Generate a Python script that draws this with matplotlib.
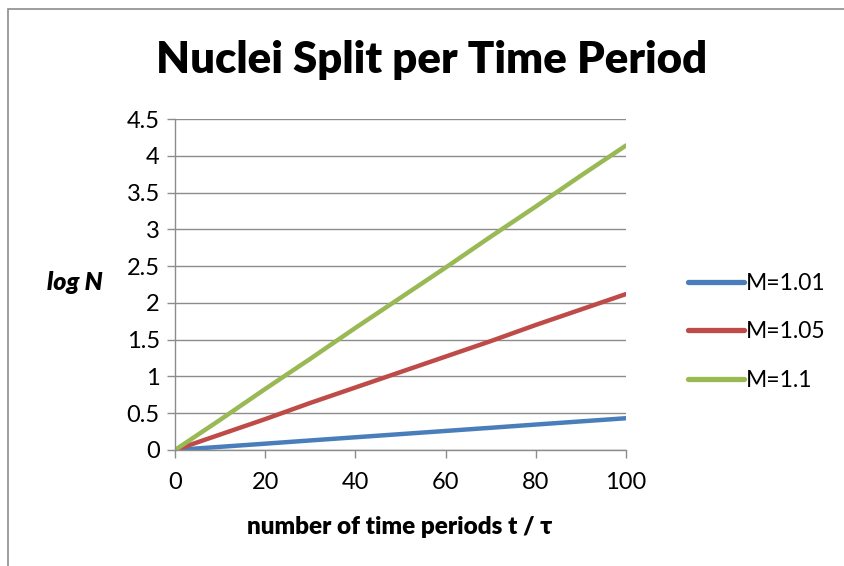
import numpy as np
import matplotlib.pyplot as plt
from matplotlib.patches import Rectangle

plt.rcParams['font.family'] = ['Lato', 'DejaVu Sans']

t = [0, 10, 20, 30, 40, 50, 60, 70, 80, 90, 100]
m101 = [0, 0.043, 0.086, 0.13, 0.173, 0.216, 0.259, 0.302, 0.346, 0.389, 0.432]
m105 = [0, 0.21, 0.42, 0.64, 0.85, 1.06, 1.27, 1.48, 1.70, 1.91, 2.12]
m110 = [0, 0.41, 0.83, 1.24, 1.66, 2.07, 2.48, 2.90, 3.31, 3.73, 4.14]
labels = ["M=1.01", "M=1.05", "M=1.1"]
colors = ["#4A7EBB", "#BE4B48", "#98B954"]

fig = plt.figure(figsize=(8.45, 5.66), dpi=100)
ax = fig.add_axes([175 / 845, 1 - 450 / 566, (626 - 175) / 845, (450 - 119) / 566])

for y, lab, c in zip([m101, m105, m110], labels, colors):
    ax.plot(t, y, color=c, lw=3.2, label=lab, solid_capstyle="round")

ax.set_xlim(0, 100)
ax.set_ylim(0, 4.5)
ax.set_xticks(np.arange(0, 101, 20))
ax.set_yticks(np.arange(0, 4.51, 0.5))
ax.set_yticklabels(["0", "0.5", "1", "1.5", "2", "2.5", "3", "3.5", "4", "4.5"])
ax.grid(axis="y", color="#8c8c8c", lw=1.0)
ax.set_axisbelow(True)
for s in ["top", "right"]:
    ax.spines[s].set_visible(False)
for s in ["left", "bottom"]:
    ax.spines[s].set_color("#8c8c8c")
    ax.spines[s].set_linewidth(1.0)
ax.tick_params(axis="both", colors="#8c8c8c", labelcolor="black",
               labelsize=17, length=6, width=1.0)
ax.tick_params(axis="x", pad=10)
ax.tick_params(axis="y", pad=5)

ax.set_xlabel("number of time periods t / τ", fontsize=17.5, fontweight="heavy")
ax.xaxis.set_label_coords((400 - 175) / 451, -(527 - 450) / 331)
ax.xaxis.label.set_va("center")
ax.set_ylabel("log N", fontsize=18, fontweight="heavy", style="italic",
              rotation=0, va="center", ha="center")
ax.yaxis.set_label_coords(-(175 - 75) / 451, (450 - 283) / 331)

fig.text(432 / 845, 1 - 60 / 566, "Nuclei Split per Time Period",
         ha="center", va="center", fontsize=31.5, fontweight="heavy")

leg = fig.legend(loc="center left", bbox_to_anchor=(667 / 845, 1 - 332 / 566),
                 frameon=False, fontsize=16.5, handlelength=2.45, handletextpad=0.1,
                 labelspacing=1.2)
for h in leg.get_lines():
    h.set_linewidth(3.8)

fig.patches.append(Rectangle((8 / 845, -0.1), 1.2, 1.1 - 9 / 566,
                             transform=fig.transFigure, fill=False,
                             edgecolor="#8c8c8c", lw=1.2))

fig.savefig("out.png", dpi=100)
